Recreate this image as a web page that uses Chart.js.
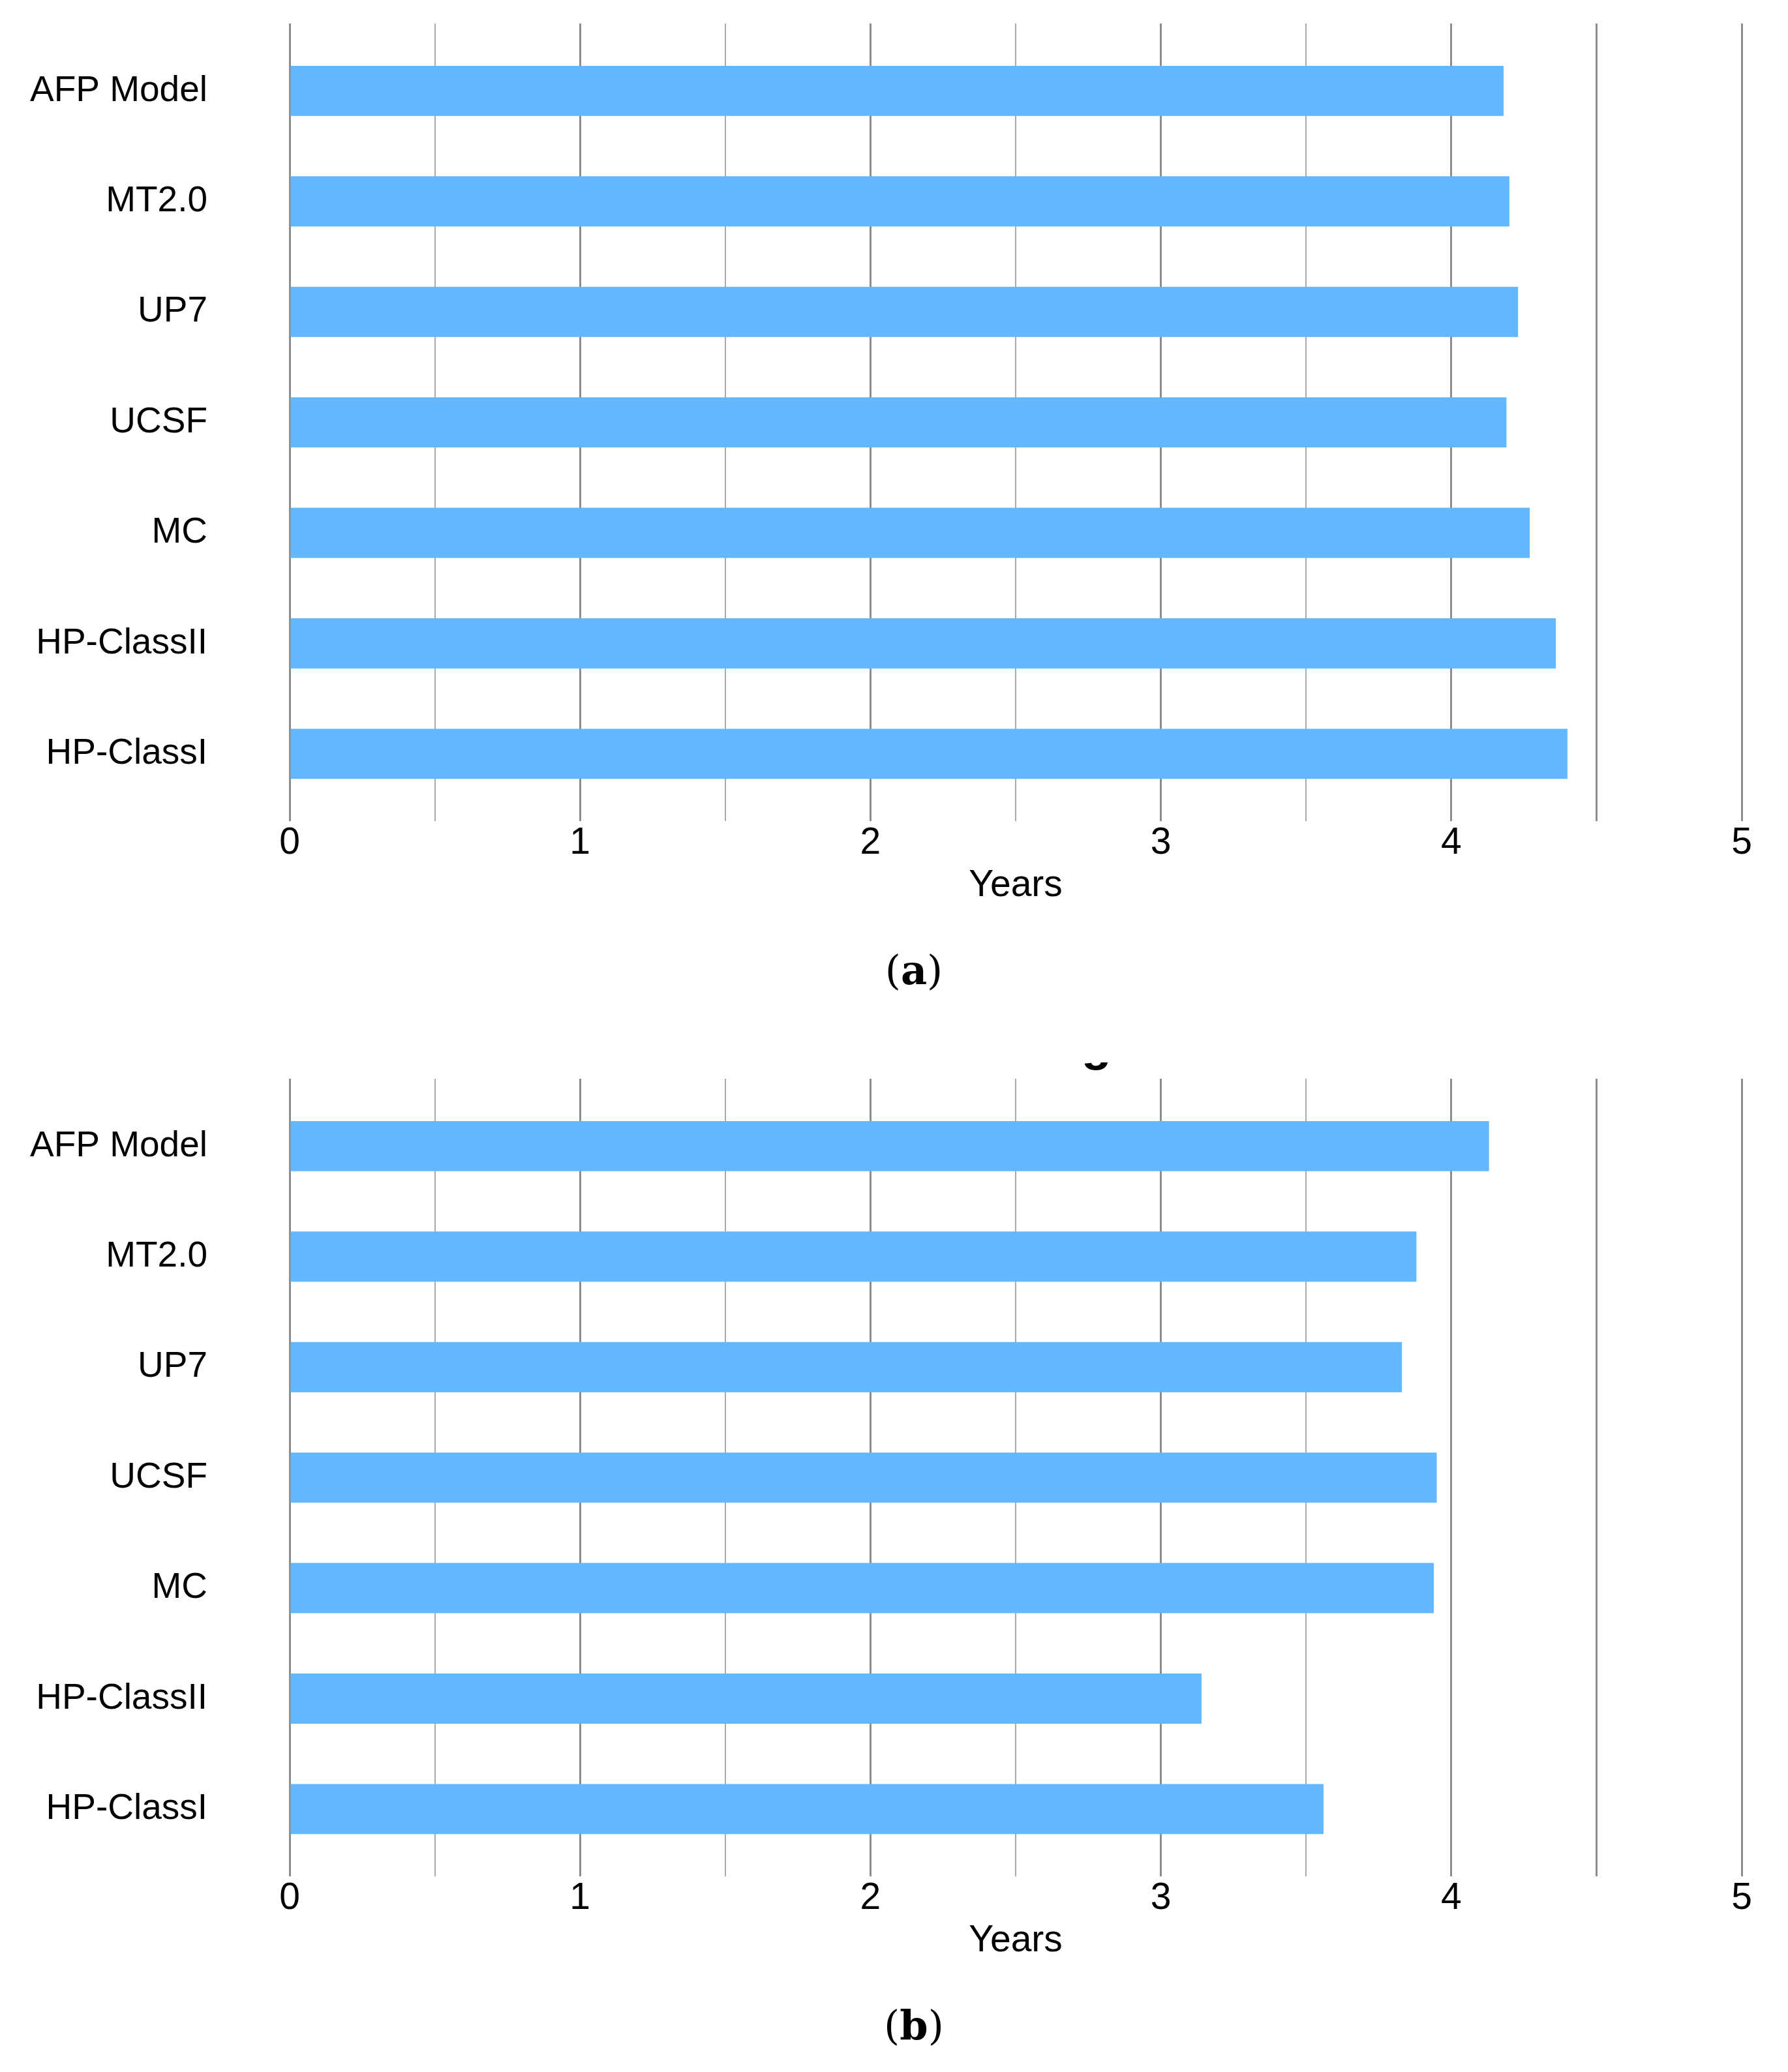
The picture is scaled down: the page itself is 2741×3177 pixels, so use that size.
<!DOCTYPE html>
<html>
<head>
<meta charset="utf-8">
<script src="https://cdn.jsdelivr.net/npm/chart.js@4.4.1/dist/chart.umd.min.js"></script>
<style>
  html, body { margin: 0; padding: 0; background: #ffffff; }
  body { width: 2741px; height: 3177px; position: relative; overflow: hidden; }
  canvas { position: absolute; left: 0; }
  .cap { position: absolute; font-family: "DejaVu Serif", "Liberation Serif", serif; font-size: 62px; line-height: 1; color: #000; transform: translate(-50%, -50%); white-space: nowrap; }
  .cap b { font-weight: bold; }
  .frag { position: absolute; left: 1640px; top: 1629px; width: 80px; height: 13px; overflow: hidden; }
  .frag span { position: absolute; left: 18px; top: -66px; font-family: "Liberation Sans", Arial, sans-serif; font-weight: bold; font-size: 75px; line-height: 1; color: #000; }
</style>
</head>
<body>
<canvas id="chartA" width="2741" height="1400" style="top:0px;width:2741px;height:1400px;"></canvas>
<div class="cap" style="left:1401px; top:1488px;">(<b>a</b>)</div>
<div class="frag"><span>g</span></div>
<canvas id="chartB" width="2741" height="1400" style="top:1618px;width:2741px;height:1400px;"></canvas>
<div class="cap" style="left:1401px; top:3106px;">(<b>b</b>)</div>
<script>
// ---- Data ----
const categories = ['AFP Model', 'MT2.0', 'UP7', 'UCSF', 'MC', 'HP-ClassII', 'HP-ClassI'];
const valuesA = [4.18, 4.20, 4.23, 4.19, 4.27, 4.36, 4.40];
const valuesB = [4.13, 3.88, 3.83, 3.95, 3.94, 3.14, 3.56];
const xTickLabels = ['0', '1', '2', '3', '4', '5'];
const xAxisTitle = 'Years';

// ---- Styling ----
const barColor = '#63b7fd';
const majorGrid = '#8a8e8c';
const minorGrid = '#a9abaa';
const sansFont = '"Liberation Sans", Arial, sans-serif';

function makeChart(id, values) {
  const points = categories.map((c, i) => ({ x: values[i], y: i }));
  return new Chart(document.getElementById(id), {
    type: 'bar',
    data: {
      datasets: [{
        data: points,
        backgroundColor: barColor,
        borderWidth: 0,
        barPercentage: 0.454,
        categoryPercentage: 1.0
      }]
    },
    options: {
      indexAxis: 'y',
      responsive: false,
      animation: false,
      devicePixelRatio: 1,
      layout: { padding: { left: 0, right: 71, top: 36, bottom: 8 } },
      plugins: { legend: { display: false }, tooltip: { enabled: false } },
      scales: {
        x: {
          type: 'linear',
          min: 0,
          max: 5,
          ticks: {
            stepSize: 0.5,
            autoSkip: false,
            maxRotation: 0,
            padding: 0,
            color: '#000',
            font: { family: sansFont, size: 57 },
            callback: (v) => Number.isInteger(v) ? xTickLabels[v] : ''
          },
          grid: {
            drawTicks: false,
            color: (ctx) => {
              const v = ctx.tick ? ctx.tick.value : 0;
              return (Number.isInteger(v) || v === 4.5) ? majorGrid : minorGrid;
            },
            lineWidth: (ctx) => {
              const v = ctx.tick ? ctx.tick.value : 0;
              return (Number.isInteger(v) || v === 4.5) ? 3 : 2;
            }
          },
          border: { display: false },
          title: {
            display: true,
            text: xAxisTitle,
            color: '#000',
            font: { family: sansFont, size: 57 },
            padding: { top: -4, bottom: 0 }
          }
        },
        y: {
          type: 'linear',
          reverse: true,
          offset: false,
          min: -0.61,
          max: 6.61,
          afterBuildTicks: (scale) => {
            scale.ticks = categories.map((c, i) => ({ value: i }));
          },
          afterFit: (scale) => {
            scale.width = 444;
            scale.paddingTop = 0;
            scale.paddingBottom = 0;
          },
          ticks: {
            autoSkip: false,
            padding: 126,
            color: '#000',
            font: { family: sansFont, size: 55 },
            callback: (v) => categories[v] !== undefined ? categories[v] : ''
          },
          grid: { display: false, drawTicks: false },
          border: { display: false }
        }
      }
    }
  });
}

makeChart('chartA', valuesA);
makeChart('chartB', valuesB);
</script>
</body>
</html>
